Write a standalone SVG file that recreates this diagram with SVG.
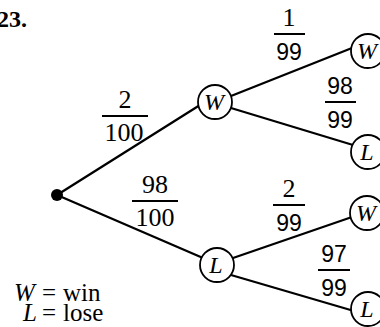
<svg xmlns="http://www.w3.org/2000/svg" width="380" height="327" viewBox="0 0 380 327">
<style>
.edge{stroke:#000;stroke-width:2.3;fill:none;stroke-linecap:round}
.node{fill:#fff;stroke:#000;stroke-width:1.8}
.nl{font-family:"Liberation Serif",serif;font-style:italic;font-size:24px;text-anchor:middle;fill:#000}
.fs{font-family:"Liberation Serif",serif;font-size:26px;text-anchor:middle;fill:#000}
.fa{font-family:"Liberation Sans",sans-serif;font-size:23px;text-anchor:middle;fill:#000}
.bar{stroke:#000;stroke-width:2}
.lg{font-family:"Liberation Serif",serif;font-size:25px;fill:#000}
</style>
<rect width="380" height="327" fill="#fff"/>
<text x="-3" y="27" font-family="Liberation Serif, serif" font-weight="bold" font-size="24">23.</text>
<g id="connectors">
<line class="edge" x1="57" y1="195" x2="200" y2="105"/>
<line class="edge" x1="57" y1="195" x2="203" y2="258"/>
<line class="edge" x1="231" y1="96" x2="352" y2="48"/>
<line class="edge" x1="231" y1="108" x2="353" y2="145"/>
<line class="edge" x1="233" y1="258" x2="352" y2="217"/>
<line class="edge" x1="231" y1="275" x2="354" y2="311"/>
</g>
<g id="root"><circle cx="57" cy="195" r="6" fill="#000"/></g>
<g id="w1"><circle class="node" cx="215" cy="102" r="17"/><text class="nl" x="214" y="110">W</text></g>
<g id="l1"><circle class="node" cx="217" cy="265" r="17"/><text class="nl" x="216" y="273">L</text></g>
<g id="ww"><circle class="node" cx="368" cy="51" r="17"/><text class="nl" x="367" y="59">W</text></g>
<g id="wl"><circle class="node" cx="368" cy="152" r="17"/><text class="nl" x="367" y="160">L</text></g>
<g id="lw"><circle class="node" cx="367" cy="213" r="17"/><text class="nl" x="366" y="221">W</text></g>
<g id="ll"><circle class="node" cx="368" cy="309" r="17"/><text class="nl" x="367" y="317">L</text></g>
<g id="p-w">
<text class="fs" x="125" y="108">2</text><line class="bar" x1="102" y1="116" x2="148" y2="116"/><text class="fs" x="124" y="141">100</text>
</g>
<g id="p-l">
<text class="fs" x="155" y="193">98</text><line class="bar" x1="132" y1="201" x2="178" y2="201"/><text class="fs" x="155" y="226">100</text>
</g>
<g id="p-ww">
<text class="fs" x="289" y="26">1</text><line class="bar" x1="274" y1="34" x2="305" y2="34"/><text class="fa" x="289" y="60">99</text>
</g>
<g id="p-wl">
<text class="fa" x="340" y="94">98</text><line class="bar" x1="325" y1="102" x2="356" y2="102"/><text class="fa" x="340" y="128">99</text>
</g>
<g id="p-lw">
<text class="fs" x="289" y="197">2</text><line class="bar" x1="273" y1="205" x2="305" y2="205"/><text class="fa" x="289" y="231">99</text>
</g>
<g id="p-ll">
<text class="fa" x="334" y="262">97</text><line class="bar" x1="318" y1="270" x2="350" y2="270"/><text class="fa" x="334" y="296">99</text>
</g>
<g id="legend">
<text class="lg" x="14" y="301" font-style="italic">W</text>
<text class="lg" x="42" y="301">=</text>
<text class="lg" x="63" y="301">win</text>
<text class="lg" x="23" y="321" font-style="italic">L</text>
<text class="lg" x="42" y="321">=</text>
<text class="lg" x="63" y="321">lose</text>
</g>
</svg>
